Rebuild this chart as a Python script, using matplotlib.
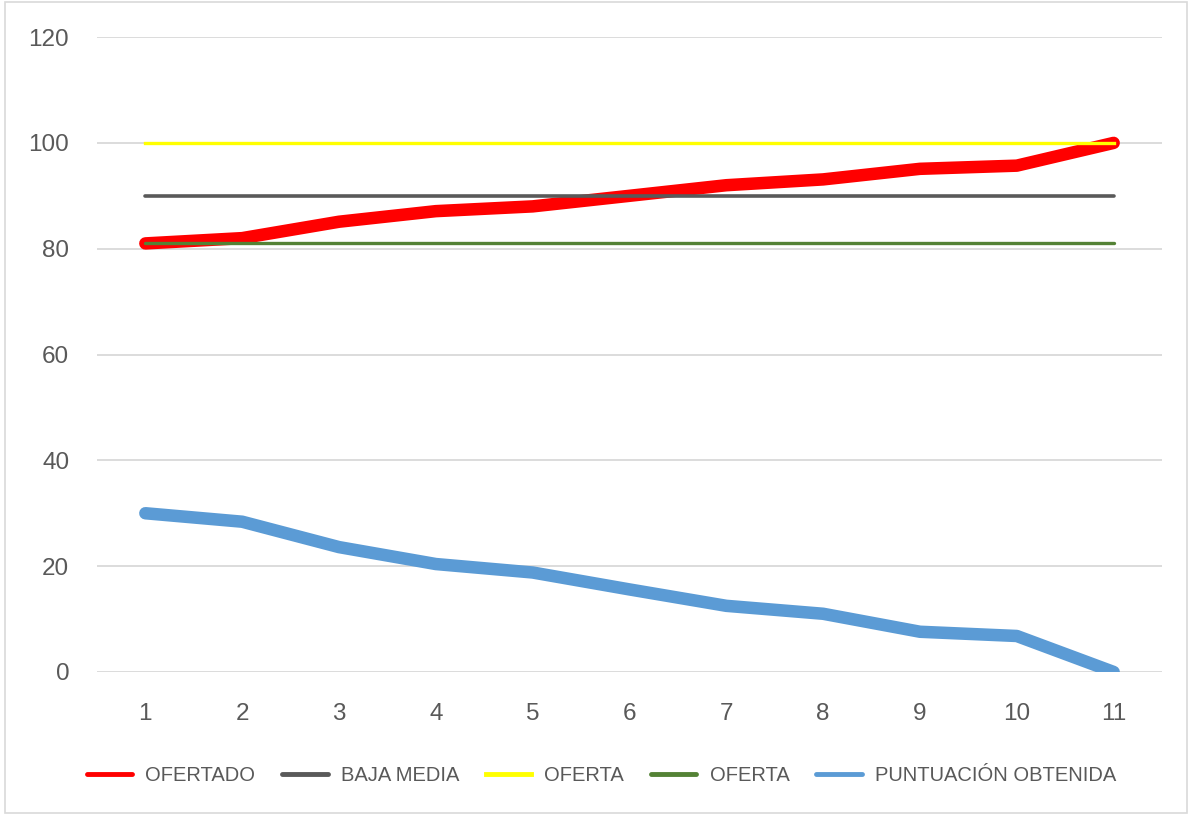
import matplotlib
matplotlib.use("Agg")
import matplotlib.pyplot as plt
from matplotlib.patches import Rectangle

x = [1, 2, 3, 4, 5, 6, 7, 8, 9, 10, 11]
ofertado = [81.0, 82.0, 85.1, 87.1, 88.0, 90.0, 92.0, 93.1, 95.1, 95.7, 100.0]
baja_media = [90] * 11
oferta_max = [100] * 11
oferta_min = [81] * 11
puntuacion = [30.0, 28.4, 23.6, 20.4, 18.8, 15.6, 12.5, 11.0, 7.6, 6.8, 0.0]

plt.rcParams['font.family'] = ['Liberation Sans', 'DejaVu Sans']

fig = plt.figure(figsize=(11.91, 8.15), dpi=100)
ax = fig.add_axes([0.0814, 0.1755, 0.8943, 0.779])

ax.plot(x, ofertado, color='#FF0000', lw=9, solid_capstyle='round', label='OFERTADO', zorder=3)
ax.plot(x, baja_media, color='#595959', lw=2.6, solid_capstyle='round', label='BAJA MEDIA', zorder=4)
ax.plot(x, oferta_max, color='#FFFF00', lw=2.4, label='OFERTA', zorder=4)
ax.plot(x, oferta_min, color='#548235', lw=2.4, solid_capstyle='round', label='OFERTA', zorder=4)
ax.plot(x, puntuacion, color='#5B9BD5', lw=9, solid_capstyle='round', label='PUNTUACIÓN OBTENIDA', zorder=3)

ax.set_xlim(0.5, 11.5)
ax.set_ylim(0, 120)
ax.set_yticks(range(0, 121, 20))
ax.set_xticks(x)
ax.grid(axis='y', color='#D9D9D9', lw=1.3)
ax.set_axisbelow(True)
for s in ax.spines.values():
    s.set_visible(False)
ax.tick_params(length=0, labelsize=17.5, labelcolor='#595959')
ax.tick_params(axis='y', pad=20)
ax.tick_params(axis='x', pad=22)

leg = fig.legend(loc='center', bbox_to_anchor=(0.505, 0.049), ncol=5, frameon=False,
                 fontsize=14.5, handlelength=2.24, columnspacing=1.35, handletextpad=0.65)
for t in leg.get_texts():
    t.set_color('#595959')
for h in leg.get_lines():
    h.set_linewidth(3.5)

fig.patches.append(Rectangle((0.004, 0.003), 0.993, 0.994, transform=fig.transFigure,
                             fill=False, edgecolor='#D9D9D9', lw=1.2))

fig.savefig('out.png', dpi=100)
